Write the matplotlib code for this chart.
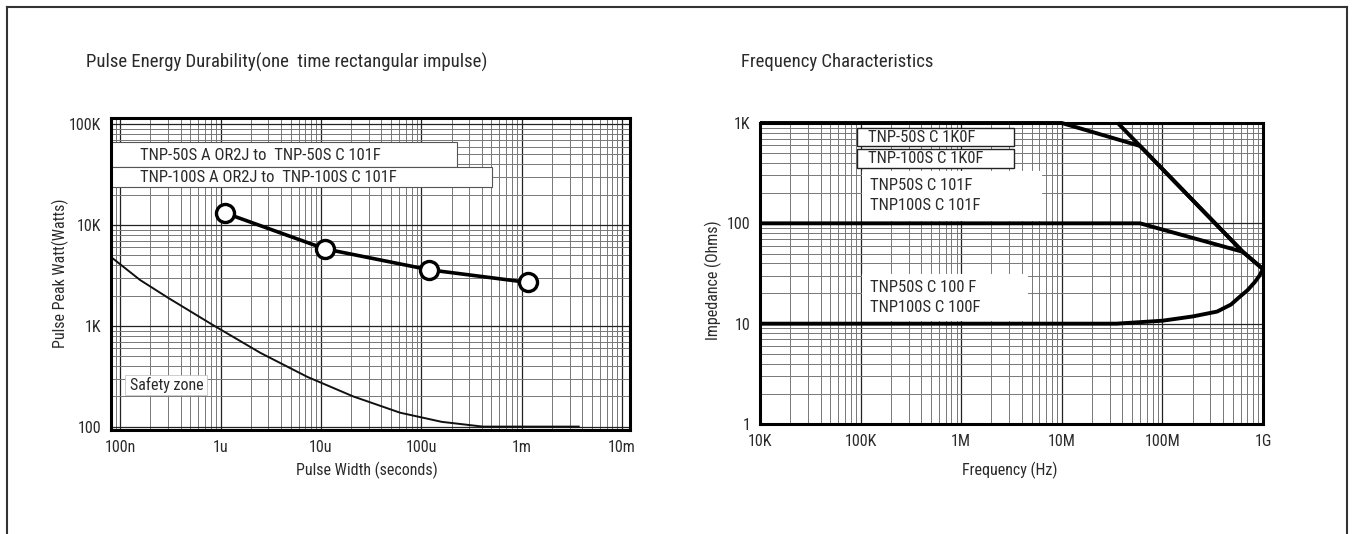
import matplotlib
matplotlib.use("Agg")
import matplotlib.pyplot as plt
from matplotlib import font_manager
from matplotlib.lines import Line2D
from matplotlib.patches import Rectangle
from matplotlib.ticker import LogLocator, NullFormatter, FixedLocator, FixedFormatter

# ---------------- data ----------------
# Pulse energy durability (left)
pulse_width = [1.1e-6, 1.1e-5, 1.2e-4, 1.15e-3]
pulse_watt = [13200, 5800, 3600, 2700]
safety_width = [8.1e-8, 1.58e-7, 3.0e-7, 8.4e-7, 2.5e-6, 7.3e-6, 2.1e-5, 6.15e-5, 1.6e-4, 4.1e-4, 3.7e-3]
safety_watt = [4820, 2850, 1900, 1020, 540, 313, 200, 138, 112, 100.5, 100.5]
left_xticks = [1e-7, 1e-6, 1e-5, 1e-4, 1e-3, 1e-2]
left_xlabels = ["100n", "1u", "10u", "100u", "1m", "10m"]
left_yticks = [100, 1000, 10000, 100000]
left_ylabels = ["100", "1K", "10K", "100K"]

# Frequency characteristics (right)
freq_100f = [1e4, 3.5e7, 1e8, 2e8, 3.5e8, 4.8e8, 5.9e8, 7e8, 8.3e8, 9.2e8, 1e9]
imp_100f = [10, 10, 10.7, 11.8, 13.2, 15.5, 18.6, 21.5, 26, 30, 35]
freq_101f = [1e4, 6e7, 6.3e8, 1e9]
imp_101f = [100, 100, 52, 35]
freq_50s_1k = [1e4, 1.0e7, 6e7, 6.3e8, 1e9]
imp_50s_1k = [1000, 1000, 590, 52, 35]
freq_100s_1k = [3.6e7, 6.3e8]
imp_100s_1k = [1000, 52]
right_xticks = [1e4, 1e5, 1e6, 1e7, 1e8, 1e9]
right_xlabels = ["10K", "100K", "1M", "10M", "100M", "1G"]
right_yticks = [1, 10, 100, 1000]
right_ylabels = ["1", "10", "100", "1K"]

# ---------------- fonts ----------------
avail = {f.name for f in font_manager.fontManager.ttflist}
fam = None
for cand in ["Liberation Sans Narrow", "Roboto Condensed", "Open Sans Condensed", "Roboto", "Liberation Sans"]:
    if cand in avail:
        fam = cand
        break
plt.rcParams["font.family"] = [fam, "DejaVu Sans"]
TXT = "#2a2a2a"
FS_TICK = 11.5
FS_LEG = 12
FS_LAB = 11.5

W, H = 1353, 534
fig = plt.figure(figsize=(W / 100, H / 100), dpi=100)


def fx(px):
    return px / W


def fy(py):
    return 1 - py / H


# outer frame
for (x0, y0, x1, y1) in [(7, 7, 1347, 7), (7, 7, 7, 534), (1347, 7, 1347, 534)]:
    fig.add_artist(Line2D([fx(x0), fx(x1)], [fy(y0), fy(y1)], color="#333333", lw=1.5))


def style_axes(ax, xt, xl, yt, yl):
    ax.set_xscale("log")
    ax.set_yscale("log")
    ax.xaxis.set_major_locator(FixedLocator(xt))
    ax.xaxis.set_major_formatter(FixedFormatter(xl))
    ax.yaxis.set_major_locator(FixedLocator(yt))
    ax.yaxis.set_major_formatter(FixedFormatter(yl))
    ax.xaxis.set_minor_locator(LogLocator(base=10, subs=range(2, 10), numticks=20))
    ax.yaxis.set_minor_locator(LogLocator(base=10, subs=range(2, 10), numticks=20))
    ax.xaxis.set_minor_formatter(NullFormatter())
    ax.yaxis.set_minor_formatter(NullFormatter())
    ax.grid(True, which="major", color="#222222", lw=0.9)
    ax.grid(True, which="minor", color="#777777", lw=0.7)
    ax.tick_params(which="both", length=0, labelsize=FS_TICK, colors=TXT, pad=7)
    for s in ax.spines.values():
        s.set_linewidth(2.2)
        s.set_color("black")
        s.set_zorder(6)
    ax.set_axisbelow(True)


def ax_box(ax, x0, y0, x1, y1, edge="#555555", lw=0.8):
    bb = ax.get_position()
    X0 = (fx(x0) - bb.x0) / bb.width
    X1 = (fx(x1) - bb.x0) / bb.width
    Y0 = (fy(y1) - bb.y0) / bb.height
    Y1 = (fy(y0) - bb.y0) / bb.height
    ax.add_patch(Rectangle((X0, Y0), X1 - X0, Y1 - Y0, transform=ax.transAxes,
                           facecolor="white", edgecolor=edge, lw=lw, zorder=4))


def ax_text(ax, px, py, s, fs=FS_LEG):
    bb = ax.get_position()
    X = (fx(px) - bb.x0) / bb.width
    Y = (fy(py) - bb.y0) / bb.height
    ax.text(X, Y, s, transform=ax.transAxes, va="center", ha="left", fontsize=fs,
            color=TXT, zorder=7)


# ---------------- left chart ----------------
axL = fig.add_axes([fx(111), fy(430), fx(630) - fx(111), fy(118) - fy(430)])
style_axes(axL, left_xticks, left_xlabels, left_yticks, left_ylabels)
axL.set_xlim(8.1e-8, 1.2e-2)
axL.set_ylim(93, 115000)

axL.plot(safety_width, safety_watt, color="#111111", lw=1.4, zorder=3)
axL.plot(pulse_width, pulse_watt, color="black", lw=2.6, marker="o", ms=13,
         mfc="white", mec="black", mew=2.4, zorder=5)

ax_box(axL, 111, 142, 457, 167)
ax_box(axL, 111, 167, 492, 187)
ax_text(axL, 140, 155, "TNP-50S A OR2J to  TNP-50S C 101F")
ax_text(axL, 140, 177, "TNP-100S A OR2J to  TNP-100S C 101F")
ax_box(axL, 125, 375, 207, 395, edge="#bbbbbb", lw=0.5)
ax_text(axL, 130, 385, "Safety zone", fs=11.5)

fig.text(fx(86), fy(62), "Pulse Energy Durability(one  time rectangular impulse)",
         fontsize=13.5, color=TXT, ha="left", va="center")
fig.text(fx(60), fy(273), "Pulse Peak Watt(Watts)", rotation=90, fontsize=FS_LAB,
         color=TXT, ha="center", va="center")
fig.text(fx(367), fy(470), "Pulse Width (seconds)", fontsize=FS_LAB, color=TXT,
         ha="center", va="center")

# ---------------- right chart ----------------
axR = fig.add_axes([fx(760), fy(424), fx(1263) - fx(760), fy(123) - fy(424)])
style_axes(axR, right_xticks, right_xlabels, right_yticks, right_ylabels)
axR.set_xlim(1e4, 1e9)
axR.set_ylim(1, 1000)

for xs, ys in [(freq_100f, imp_100f), (freq_101f, imp_101f),
               (freq_50s_1k, imp_50s_1k), (freq_100s_1k, imp_100s_1k)]:
    axR.plot(xs, ys, color="black", lw=2.8, zorder=5, clip_on=False,
             solid_capstyle="butt", solid_joinstyle="round")

ax_box(axR, 857, 128, 1014, 146, edge="#222222", lw=1.0)
ax_box(axR, 857, 149, 1014, 168, edge="#222222", lw=1.0)
ax_text(axR, 868, 137, "TNP-50S C 1K0F")
ax_text(axR, 868, 158, "TNP-100S C 1K0F")
ax_box(axR, 862, 171, 1042, 221, edge="white", lw=0.1)
ax_text(axR, 870, 185, "TNP50S C 101F")
ax_text(axR, 870, 205, "TNP100S C 101F")
ax_box(axR, 862, 274, 1028, 321, edge="white", lw=0.1)
ax_text(axR, 870, 288, "TNP50S C 100 F")
ax_text(axR, 870, 307, "TNP100S C 100F")

fig.text(fx(741), fy(62), "Frequency Characteristics", fontsize=13.5, color=TXT,
         ha="left", va="center")
fig.text(fx(713), fy(280), "Impedance (Ohms)", rotation=90, fontsize=FS_LAB,
         color=TXT, ha="center", va="center")
fig.text(fx(1010), fy(470), "Frequency (Hz)", fontsize=FS_LAB, color=TXT,
         ha="center", va="center")

fig.savefig("out.png", dpi=100)
